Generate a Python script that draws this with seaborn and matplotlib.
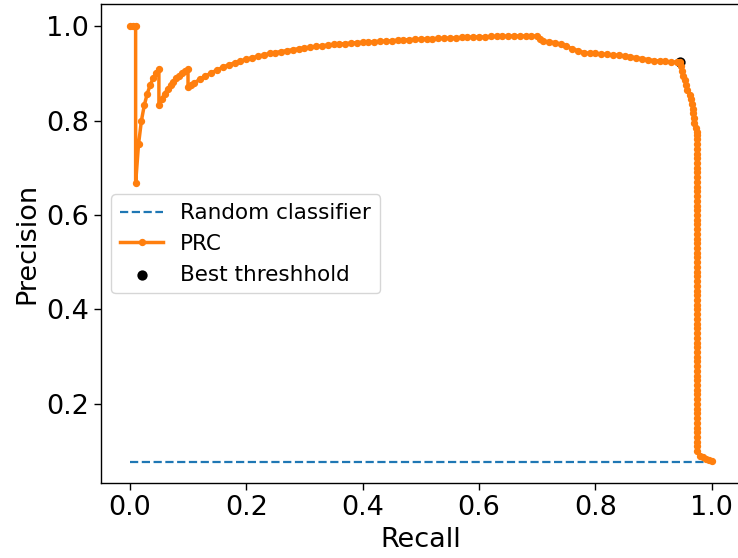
import matplotlib
matplotlib.use("Agg")
import matplotlib.pyplot as plt
import seaborn as sns

# ---- data ----
random_recall = [0.0, 1.0]
random_precision = [0.078, 0.078]

prc_recall = [
    0.000, 0.005, 0.010, 0.010, 0.015, 0.020, 0.025, 0.030, 0.035, 0.040, 0.045, 0.050,
    0.050, 0.055, 0.060, 0.065, 0.070, 0.075, 0.080, 0.085, 0.090, 0.095, 0.100,
    0.100, 0.105, 0.110, 0.120, 0.130, 0.140, 0.150, 0.160, 0.170, 0.180, 0.190,
    0.200, 0.210, 0.220, 0.230, 0.240, 0.250, 0.260, 0.270, 0.280, 0.290,
    0.300, 0.310, 0.320, 0.330, 0.340, 0.350, 0.360, 0.370, 0.380, 0.390,
    0.400, 0.410, 0.420, 0.430, 0.440, 0.450, 0.460, 0.470, 0.480, 0.490,
    0.500, 0.510, 0.520, 0.530, 0.540, 0.550, 0.560, 0.570, 0.580, 0.590,
    0.600, 0.610, 0.620, 0.630, 0.640, 0.650, 0.660, 0.670, 0.680, 0.690,
    0.700, 0.705, 0.710, 0.720, 0.730, 0.740, 0.750, 0.760, 0.770, 0.780, 0.790,
    0.800, 0.810, 0.820, 0.830, 0.840, 0.850, 0.860, 0.870, 0.880, 0.890,
    0.900, 0.910, 0.920, 0.930, 0.940, 0.945,
    0.947, 0.948, 0.950, 0.953, 0.956, 0.958, 0.962, 0.964, 0.966, 0.967,
    0.968, 0.969, 0.970, 0.972, 0.974,
    0.975, 0.975, 0.975, 0.975, 0.975, 0.975, 0.975, 0.975, 0.975, 0.975,
    0.975, 0.975, 0.975, 0.975, 0.975, 0.975, 0.975, 0.975, 0.975, 0.975,
    0.975, 0.975, 0.975, 0.975, 0.975, 0.975, 0.975, 0.975, 0.975, 0.975,
    0.975, 0.975, 0.975, 0.975, 0.975, 0.975, 0.975, 0.975, 0.975, 0.975,
    0.975, 0.975, 0.975, 0.975, 0.975, 0.975, 0.975, 0.975, 0.975, 0.975,
    0.975, 0.975, 0.975, 0.975, 0.975, 0.975, 0.975, 0.975, 0.975, 0.975,
    0.975, 0.975, 0.975, 0.975, 0.975, 0.975, 0.975, 0.975,
    0.980, 0.985, 0.990, 0.995, 1.000,
]
prc_precision = [
    1.000, 1.000, 1.000, 0.667, 0.750, 0.800, 0.833, 0.857, 0.875, 0.889, 0.900, 0.909,
    0.833, 0.846, 0.857, 0.867, 0.875, 0.882, 0.889, 0.895, 0.900, 0.905, 0.909,
    0.870, 0.876, 0.879, 0.887, 0.894, 0.901, 0.907, 0.913, 0.918, 0.922, 0.926,
    0.930, 0.933, 0.936, 0.939, 0.942, 0.944, 0.946, 0.948, 0.950, 0.952,
    0.954, 0.955, 0.957, 0.958, 0.960, 0.961, 0.962, 0.963, 0.964, 0.965,
    0.966, 0.966, 0.967, 0.968, 0.968, 0.969, 0.970, 0.971, 0.971, 0.972,
    0.972, 0.973, 0.973, 0.974, 0.974, 0.975, 0.975, 0.976, 0.976, 0.977,
    0.977, 0.977, 0.978, 0.978, 0.978, 0.979, 0.979, 0.979, 0.979, 0.979,
    0.979, 0.972, 0.968, 0.967, 0.965, 0.962, 0.957, 0.952, 0.948, 0.944, 0.942,
    0.942, 0.941, 0.940, 0.939, 0.938, 0.937, 0.935, 0.933, 0.931, 0.929,
    0.927, 0.926, 0.925, 0.924, 0.924, 0.924,
    0.915, 0.905, 0.895, 0.885, 0.875, 0.865, 0.855, 0.845, 0.835, 0.825,
    0.815, 0.805, 0.795, 0.785, 0.775,
    0.770, 0.760, 0.750, 0.740, 0.730, 0.720, 0.710, 0.700, 0.690, 0.680,
    0.670, 0.660, 0.650, 0.640, 0.630, 0.620, 0.610, 0.600, 0.590, 0.580,
    0.570, 0.560, 0.550, 0.540, 0.530, 0.520, 0.510, 0.500, 0.490, 0.480,
    0.470, 0.460, 0.450, 0.440, 0.430, 0.420, 0.410, 0.400, 0.390, 0.380,
    0.370, 0.360, 0.350, 0.340, 0.330, 0.320, 0.310, 0.300, 0.290, 0.280,
    0.270, 0.260, 0.250, 0.240, 0.230, 0.220, 0.210, 0.200, 0.190, 0.180,
    0.170, 0.160, 0.150, 0.140, 0.130, 0.120, 0.110, 0.100, 0.090,
    0.087, 0.084, 0.082, 0.080, 0.078,
]
prc_precision = prc_precision[:len(prc_recall)]

best_recall = [0.945]
best_precision = [0.924]

# ---- figure ----
fig = plt.figure(figsize=(7.38, 5.58), dpi=100)
ax = fig.add_axes([100.7 / 738, 1 - 483.3 / 558, (741 - 100.7) / 738, (483.3 - 4.3) / 558])

sns.lineplot(x=random_recall, y=random_precision, ax=ax, linestyle='--',
             color='#1f77b4', linewidth=1.6, label='Random classifier')
sns.lineplot(x=prc_recall, y=prc_precision, ax=ax, sort=False, estimator=None,
             marker='.', markersize=8.5, markeredgecolor='#ff7f0e', markeredgewidth=1,
             color='#ff7f0e', linewidth=2.5, label='PRC')
sns.scatterplot(x=best_recall, y=best_precision, ax=ax, color='black', s=55,
                linewidth=0, label='Best threshhold')

ax.set_xticks([0.0, 0.2, 0.4, 0.6, 0.8, 1.0])
ax.set_yticks([0.2, 0.4, 0.6, 0.8, 1.0])
ax.tick_params(labelsize=19.5, length=5, width=1)
for s in ax.spines.values():
    s.set_linewidth(1)
ax.set_xlabel('Recall', fontsize=19.5)
ax.set_ylabel('Precision', fontsize=19.5)
ax.legend(loc='center left', fontsize=15.5)

fig.savefig('out.png', dpi=100)
